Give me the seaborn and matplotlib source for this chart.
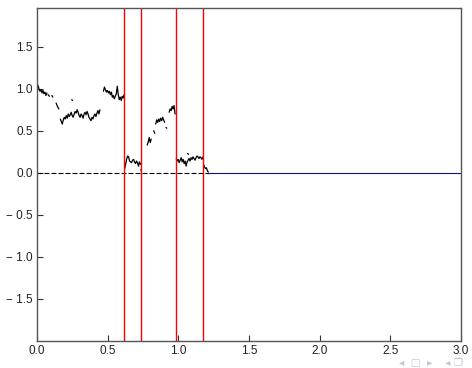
import numpy as np
import pandas as pd
import matplotlib
matplotlib.use("Agg")
import matplotlib.pyplot as plt
import seaborn as sns

# ---- data; None marks a gap in the path ----
path_x = [0.000, 0.007, 0.014, 0.021, 0.028, 0.035, 0.042, 0.049, 0.056, 0.063, 0.070, None,
          0.078, 0.088, None,
          0.105, 0.112, None,
          0.135, 0.142, 0.148, 0.155, None,
          0.165, 0.172, 0.179, 0.186, 0.193, 0.200, 0.207, 0.214, 0.221, 0.228, 0.235, 0.242,
          0.249, 0.256, 0.263, 0.270, 0.277, 0.284, 0.291, 0.298, 0.305, 0.312, 0.319, 0.326,
          0.333, 0.340, 0.347, 0.354, 0.361, 0.368, 0.375, 0.382, 0.389, 0.396, 0.403, 0.410,
          0.417, 0.424, 0.431, 0.438, 0.445, None,
          0.246, 0.251, None,
          0.470, 0.477, 0.484, 0.491, 0.498, 0.505, 0.512, 0.519, 0.526, 0.533, 0.540, 0.547,
          0.554, 0.561, 0.568, 0.575, 0.582, 0.589, 0.596, 0.603, 0.610, 0.616, None,
          0.620, 0.627, 0.634, 0.641, 0.648, 0.655, 0.662, 0.669, 0.676, 0.683, 0.690, 0.697,
          0.704, 0.711, 0.718, 0.725, 0.732, None,
          0.735, 0.740, None,
          0.780, 0.787, 0.794, 0.801, 0.808, None,
          0.826, 0.833, None,
          0.840, 0.847, 0.854, 0.861, 0.868, 0.875, 0.882, 0.889, 0.896, 0.903, None,
          0.913, 0.918, None,
          0.935, 0.942, 0.949, 0.956, 0.963, 0.970, 0.977, None,
          0.985, 0.992, 0.999, 1.006, 1.013, 1.020, 1.027, 1.034, 1.041, 1.048, 1.055, 1.062,
          1.069, 1.076, 1.083, 1.090, 1.097, 1.104, 1.111, 1.118, 1.125, 1.132, 1.139, 1.146,
          1.153, 1.160, 1.167, 1.174, None,
          1.066, 1.072, None,
          1.178, 1.185, 1.192, 1.199, 1.206, 1.213]
path_y = [1.06, 1.04, 1.00, 0.97, 0.99, 0.95, 0.98, 0.94, 0.96, 0.92, 0.95, None,
          0.93, 0.91, None,
          0.92, 0.90, None,
          0.83, 0.80, 0.78, 0.76, None,
          0.64, 0.61, 0.58, 0.63, 0.66, 0.64, 0.68, 0.65, 0.70, 0.67, 0.69, 0.72,
          0.68, 0.66, 0.70, 0.73, 0.71, 0.75, 0.72, 0.68, 0.66, 0.70, 0.68, 0.65,
          0.70, 0.72, 0.69, 0.73, 0.70, 0.66, 0.64, 0.62, 0.66, 0.64, 0.68, 0.70,
          0.67, 0.71, 0.74, 0.70, 0.75, None,
          0.87, 0.86, None,
          0.97, 1.02, 0.99, 0.96, 0.98, 0.95, 0.97, 0.93, 0.96, 0.90, 0.92, 0.88,
          0.91, 0.94, 1.03, 0.93, 0.87, 0.90, 0.86, 0.91, 0.89, 0.93, None,
          0.05, 0.10, 0.16, 0.20, 0.19, 0.14, 0.13, 0.12, 0.15, 0.16, 0.13, 0.11,
          0.14, 0.12, 0.08, 0.13, 0.10, None,
          0.04, 0.02, None,
          0.33, 0.37, 0.42, 0.36, 0.40, None,
          0.50, 0.47, None,
          0.58, 0.63, 0.60, 0.64, 0.61, 0.65, 0.62, 0.66, 0.63, 0.60, None,
          0.54, 0.53, None,
          0.72, 0.76, 0.74, 0.79, 0.76, 0.80, 0.70, None,
          0.17, 0.14, 0.16, 0.12, 0.15, 0.18, 0.13, 0.16, 0.11, 0.14, 0.08, 0.13,
          0.15, 0.17, 0.14, 0.18, 0.16, 0.19, 0.17, 0.15, 0.18, 0.20, 0.19, 0.17,
          0.19, 0.18, 0.16, 0.19, None,
          0.23, 0.22, None,
          0.10, 0.07, 0.05, 0.06, 0.02, 0.01]

change_points = [0.616, 0.736, 0.984, 1.175]
baseline_end = 1.215
x_ticks = [0.0, 0.5, 1.0, 1.5, 2.0, 2.5, 3.0]
x_tick_labels = ["0.0", "0.5", "1.0", "1.5", "2.0", "2.5", "3.0"]
y_ticks = [-1.5, -1.0, -0.5, 0.0, 0.5, 1.0, 1.5]
y_tick_labels = ["\u2212 1.5", "\u2212 1.0", "\u2212 0.5", "0.0", "0.5", "1.0", "1.5"]

# ---- build segments ----
rows = []
seg = 0
for xv, yv in zip(path_x, path_y):
    if xv is None:
        seg += 1
        continue
    rows.append((xv, yv, seg))
df = pd.DataFrame(rows, columns=["x", "y", "seg"])

sns.set_theme(style="white")
plt.rcParams["font.family"] = ["Liberation Sans", "DejaVu Sans"]

fig = plt.figure(figsize=(4.72, 3.68), dpi=100)
ax = fig.add_axes([0.0784, 0.0734, 0.8983, 0.9048])

sns.lineplot(data=df, x="x", y="y", units="seg", estimator=None, sort=False,
             color="black", linewidth=0.9, ax=ax)

ax.plot([0, baseline_end], [0, 0], color="black", lw=0.8, dashes=(4.5, 1.8))
ax.plot([baseline_end, 3.0], [0, 0], color="#10108a", lw=0.8)

for cp in change_points:
    ax.axvline(cp, color="red", lw=1.0)

ax.set_xlim(0, 3.0)
ax.set_ylim(-2.0, 1.96)
ax.set_xticks(x_ticks)
ax.set_xticklabels(x_tick_labels)
ax.set_yticks(y_ticks)
ax.set_yticklabels(y_tick_labels)
ax.set_xlabel("")
ax.set_ylabel("")
ax.tick_params(axis="both", direction="in", length=4, width=0.8, color="#333333",
               labelsize=8.5, labelcolor="#222222", pad=3, left=True, bottom=True)
for s in ax.spines.values():
    s.set_color("#555555")
    s.set_linewidth(1.0)

fig.text(0.98, 0.0, "\u25c2  \u25a1  \u25b8    \u25c2 \u2750", ha="right", va="bottom",
         fontsize=7.5, color="#c4c4d8",
         family=["DejaVu Sans", "Noto Sans", "Noto Sans CJK SC"])

fig.savefig("out.png", dpi=100)
